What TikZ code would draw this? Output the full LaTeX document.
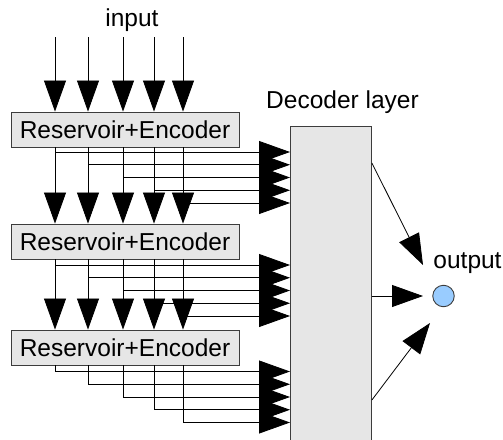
\documentclass[tikz,border=0pt]{standalone}
\usepackage{fontspec}
\setmainfont{Liberation Sans}
\usetikzlibrary{arrows.meta,calc}
\definecolor{boxfill}{HTML}{E6E6E6}
\definecolor{boxline}{HTML}{3C3C3C}
\definecolor{outfill}{HTML}{99CCFF}
\begin{document}
\begin{tikzpicture}[x=1pt,y=-1pt,
  box/.style={draw=boxline, fill=boxfill, line width=0.9pt, inner sep=0pt, font=\fontsize{24.5}{28}\selectfont},
  big/.style={-{Triangle[length=31pt,width=22pt]}, line width=0.8pt},
  lbl/.style={font=\fontsize{24.5}{28}\selectfont, anchor=base, inner sep=0pt}]
\useasboundingbox (0,0) rectangle (503,439);
\clip (0,0) rectangle (503,439);
% nodes
\node[box, minimum width=228pt, minimum height=35pt] (enc1) at (125,129.5) {Reservoir+Encoder};
\node[box, minimum width=228pt, minimum height=35pt] (enc2) at (125,241.5) {Reservoir+Encoder};
\node[box, minimum width=228pt, minimum height=35pt] (enc3) at (125,347.5) {Reservoir+Encoder};
\node[box, minimum width=81pt, minimum height=340pt, anchor=north west] (dec) at (290,126) {};
\node[draw=boxline, fill=outfill, line width=0.9pt, circle, minimum size=21.5pt, inner sep=0pt] (out) at (443.5,296) {};
\node[lbl] (inlbl) at (132,27) {input};
\node[lbl] (declbl) at (342.5,108) {Decoder layer};
\node[lbl] (outlbl) at (467.5,268) {output};
% horizontal branches (drawn first, under the vertical arrow heads)
\foreach \x [count=\i from 0] in {55,88,123,154,183} {
  \coordinate (pa\i) at (\x, {152+12.75*\i});
  \coordinate (pb\i) at (\x, {265+12.75*\i});
  \coordinate (pc\i) at (\x, {371.5+12.75*\i});
  \draw[big] (pa\i) -- (dec.west |- pa\i);
  \draw[big] (pb\i) -- (dec.west |- pb\i);
  \draw[big] (enc3.south -| pc\i) |- (dec.west |- pc\i);
}
% vertical arrows
\foreach \x [count=\i from 0] in {55,88,123,154,183} {
  \coordinate (in\i) at (\x,37);
  \draw[big] (in\i) -- (enc1.north -| in\i);
  \draw[big] (enc1.south -| in\i) -- (enc2.north -| in\i);
  \draw[big] (enc2.south -| in\i) -- (enc3.north -| in\i);
}
% output arrows
\draw[big] ($(dec.north east)+(0,37)$) -- ($(out.center)+(-20.5,-31)$);
\draw[big] (dec.east |- out) -- ($(out.center)+(-20.5,0)$);
\draw[big] ($(dec.north east)+(0,274)$) -- ($(out.center)+(-13.5,27)$);
\end{tikzpicture}
\end{document}
